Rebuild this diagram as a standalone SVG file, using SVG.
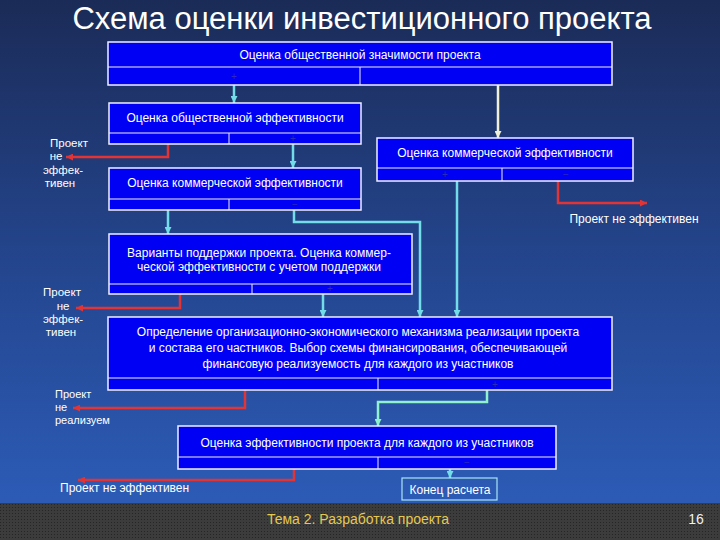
<svg xmlns="http://www.w3.org/2000/svg" width="720" height="540" viewBox="0 0 720 540">
<defs>
<linearGradient id="bg" x1="0" y1="0" x2="0" y2="1">
<stop offset="0" stop-color="#1b2b57"/>
<stop offset="0.5" stop-color="#24468f"/>
<stop offset="0.93" stop-color="#2c5bb6"/>
</linearGradient>
<pattern id="dots" width="3" height="3" patternUnits="userSpaceOnUse">
<rect width="3" height="3" fill="#3c3c3c"/>
<rect width="1" height="1" fill="#262626"/>
</pattern>
<marker id="ac" viewBox="0 0 10 10" refX="10" refY="5" markerWidth="7" markerHeight="7" markerUnits="userSpaceOnUse" orient="auto">
<path d="M0,0 L10,5 L0,10 z" fill="#72dce8"/>
</marker>
<marker id="ap" viewBox="0 0 10 10" refX="10" refY="5" markerWidth="7" markerHeight="7" markerUnits="userSpaceOnUse" orient="auto">
<path d="M0,0 L10,5 L0,10 z" fill="#f0f0d8"/>
</marker>
<marker id="am" viewBox="0 0 10 10" refX="10" refY="5" markerWidth="7" markerHeight="7" markerUnits="userSpaceOnUse" orient="auto">
<path d="M0,0 L10,5 L0,10 z" fill="#8ef2cc"/>
</marker>
<marker id="ar" viewBox="0 0 10 10" refX="10" refY="5" markerWidth="7" markerHeight="7" markerUnits="userSpaceOnUse" orient="auto">
<path d="M0,0 L10,5 L0,10 z" fill="#e23434"/>
</marker>
</defs>
<style>
.box{fill:#0000f4;stroke:#f0f0ff;stroke-width:1.5}
.div{stroke:#f0f0ff;stroke-width:1}
.t{font-family:"Liberation Sans",Arial,sans-serif;font-size:12px;fill:#ffffff;text-anchor:middle}
.s{font-family:"Liberation Sans",Arial,sans-serif;font-size:11.5px;fill:#ffffff;text-anchor:middle}
.l{font-family:"Liberation Sans",Arial,sans-serif;font-size:11px;fill:#ffffff}
.mk{font-family:"Liberation Sans",Arial,sans-serif;font-size:10px;fill:#2a2ac0;text-anchor:middle}
.cy{fill:none;stroke:#72dce8;stroke-width:2.5;marker-end:url(#ac)}
.pl{fill:none;stroke:#f0f0d8;stroke-width:2.5;marker-end:url(#ap)}
.mi{fill:none;stroke:#8ef2cc;stroke-width:2.5;marker-end:url(#am)}
.rd{fill:none;stroke:#e23434;stroke-width:2.5;marker-end:url(#ar)}
</style>
<rect width="720" height="540" fill="url(#bg)"/>
<rect y="503" width="720" height="37" fill="url(#dots)"/>
<text x="362" y="29" font-family="Liberation Sans,Arial,sans-serif" font-size="31" fill="#ffffff" text-anchor="middle">Схема оценки инвестиционного проекта</text>

<g id="connectors">
<path class="cy" d="M234,85 V103"/>
<path class="pl" d="M498,85 V138"/>
<path class="cy" d="M293,144 V168"/>
<path class="rd" d="M168,144 V157 H66"/>
<path class="cy" d="M168,210 V234"/>
<path class="cy" d="M294,210 V222 H420 V317"/>
<path class="cy" d="M457,181 V317"/>
<path class="rd" d="M558,181 V203 H647"/>
<path class="rd" d="M180,294 V308 H76"/>
<path class="cy" d="M323,294 V317"/>
<path class="rd" d="M245,390 V408 H73"/>
<path class="mi" d="M487,390 V402 H378 V426"/>
<path class="rd" d="M294,469 V480 H78"/>
<path class="cy" d="M450,469 V478"/>
</g>

<g id="n1">
<rect class="box" x="108" y="42" width="504" height="43"/>
<line class="div" x1="108" y1="67" x2="612" y2="67"/>
<line class="div" x1="360" y1="67" x2="360" y2="85"/>
<text class="t" x="360" y="59">Оценка общественной значимости проекта</text>
<text class="mk" x="234" y="80">+</text>
</g>

<g id="n2">
<rect class="box" x="109" y="103" width="252" height="41"/>
<line class="div" x1="109" y1="133" x2="361" y2="133"/>
<line class="div" x1="229" y1="133" x2="229" y2="144"/>
<text class="t" x="235" y="122">Оценка общественной эффективности</text>
<text class="mk" x="293" y="142">+</text>
</g>

<g id="n3">
<rect class="box" x="109" y="168" width="252" height="42"/>
<line class="div" x1="109" y1="199" x2="361" y2="199"/>
<line class="div" x1="229" y1="199" x2="229" y2="210"/>
<text class="t" x="235" y="187">Оценка коммерческой эффективности</text>
<text class="mk" x="295" y="208">−</text>
</g>

<g id="n3r">
<rect class="box" x="377" y="138" width="256" height="43"/>
<line class="div" x1="377" y1="168" x2="633" y2="168"/>
<line class="div" x1="502" y1="168" x2="502" y2="181"/>
<text class="t" x="505" y="157">Оценка коммерческой эффективности</text>
<text class="mk" x="445" y="178">+</text>
<text class="mk" x="566" y="178">−</text>
</g>

<g id="n4">
<rect class="box" x="109" y="234" width="303" height="60"/>
<line class="div" x1="109" y1="284" x2="412" y2="284"/>
<line class="div" x1="252" y1="284" x2="252" y2="294"/>
<text class="t" x="259" y="257">Варианты поддержки проекта. Оценка коммер-</text>
<text class="t" x="259" y="271">ческой эффективности с учетом поддержки</text>
<text class="mk" x="330" y="292">+</text>
</g>

<g id="n5">
<rect class="box" x="108" y="317" width="504" height="73"/>
<line class="div" x1="108" y1="378" x2="612" y2="378"/>
<line class="div" x1="378" y1="378" x2="378" y2="390"/>
<text class="t" x="358" y="336">Определение организационно-экономического механизма реализации проекта</text>
<text class="t" x="358" y="352">и состава его частников. Выбор схемы финансирования, обеспечивающей</text>
<text class="t" x="358" y="368">финансовую реализуемость для каждого из участников</text>
<text class="mk" x="495" y="388">+</text>
</g>

<g id="n6">
<rect class="box" x="178" y="426" width="378" height="43"/>
<line class="div" x1="178" y1="457" x2="556" y2="457"/>
<line class="div" x1="378" y1="457" x2="378" y2="469"/>
<text class="t" x="367" y="447">Оценка эффективности проекта для каждого из участников</text>
<text class="mk" x="467" y="466">−</text>
</g>

<g id="end">
<rect x="402" y="478" width="95" height="22" fill="none" stroke="#a8e4f4" stroke-width="1.2"/>
<text class="t" x="450" y="494">Конец расчета</text>
</g>

<g id="labels">
<text class="s" x="69" y="147">Проект</text>
<text class="s" x="56" y="160">не</text>
<text class="s" x="63" y="174">эффек-</text>
<text class="s" x="60" y="187">тивен</text>
<text class="t" x="634" y="223">Проект не эффективен</text>
<text class="s" x="62" y="296">Проект</text>
<text class="s" x="63" y="310">не</text>
<text class="s" x="63" y="323">эффек-</text>
<text class="s" x="61" y="336">тивен</text>
<text class="l" x="55" y="398">Проект</text>
<text class="l" x="55" y="411">не</text>
<text class="l" x="55" y="424">реализуем</text>
<text class="l" x="60" y="492" style="font-size:12px">Проект не эффективен</text>
</g>

<g id="footer">
<text x="358" y="524" font-family="Liberation Sans,Arial,sans-serif" font-size="14" fill="#e6c850" text-anchor="middle">Тема 2. Разработка проекта</text>
<text x="696" y="524" font-family="Liberation Sans,Arial,sans-serif" font-size="14" fill="#f0f0f0" text-anchor="middle">16</text>
</g>
</svg>
